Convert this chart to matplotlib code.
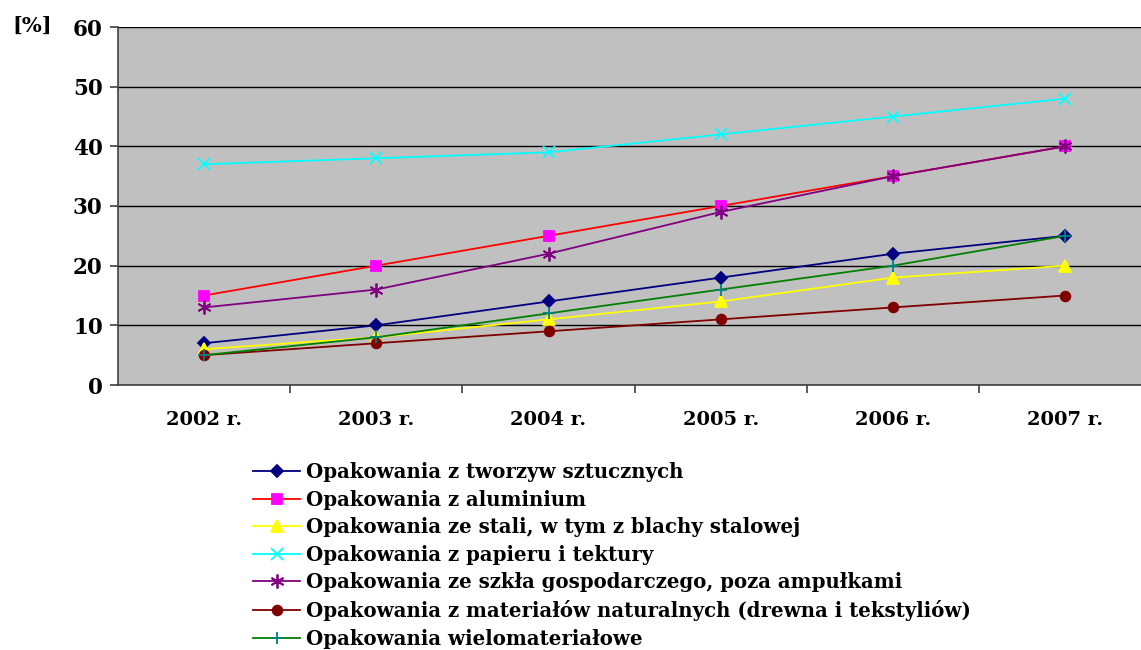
import matplotlib.pyplot as plt

years = ["2002 r.", "2003 r.", "2004 r.", "2005 r.", "2006 r.", "2007 r."]

tworzywa = [7, 10, 14, 18, 22, 25]
aluminium = [15, 20, 25, 30, 35, 40]
stal = [6, 8, 11, 14, 18, 20]
papier = [37, 38, 39, 42, 45, 48]
szklo = [13, 16, 22, 29, 35, 40]
naturalne = [5, 7, 9, 11, 13, 15]
wielomat = [5, 8, 12, 16, 20, 25]

labels = [
    "Opakowania z tworzyw sztucznych",
    "Opakowania z aluminium",
    "Opakowania ze stali, w tym z blachy stalowej",
    "Opakowania z papieru i tektury",
    "Opakowania ze szkła gospodarczego, poza ampułkami",
    "Opakowania z materiałów naturalnych (drewna i tekstyliów)",
    "Opakowania wielomateriałowe",
]

plt.rcParams['font.family'] = ['DejaVu Serif', 'Liberation Serif']
plt.rcParams['font.weight'] = 'bold'

fig = plt.figure(figsize=(11.41, 6.5), dpi=100)
ax = fig.add_axes([118 / 1141, 1 - 385 / 650, (1141 - 118) / 1141, (385 - 27) / 650])
ax.set_facecolor("#C0C0C0")

x = range(len(years))
series = [
    (tworzywa, "#000080", "D", "#000080", 6),
    (aluminium, "#FF0000", "s", "#FF00FF", 7),
    (stal, "#FFFF00", "^", "#FFFF00", 8),
    (papier, "#00FFFF", "x", "#00FFFF", 8),
    (szklo, "#800080", (6, 2, 0), "#800080", 10),
    (naturalne, "#800000", "o", "#800000", 7),
    (wielomat, "#008000", "+", "#008080", 9),
]
for (vals, lc, m, mc, ms), lbl in zip(series, labels):
    ax.plot(x, vals, color=lc, lw=1.3, marker=m, markersize=ms,
            markerfacecolor=mc, markeredgecolor=mc, markeredgewidth=1.3,
            label=lbl, zorder=3)

ax.set_ylim(0, 60)
ax.set_yticks(range(0, 61, 10))
ax.set_xlim(-0.5, 5.44)
ax.set_xticks([i + 0.5 for i in range(5)])
ax.set_xticklabels([])
ax.set_xticks(list(x), minor=True)
ax.set_xticklabels(years, minor=True, fontsize=14, fontweight='bold')
ax.tick_params(axis='x', which='minor', length=0, pad=19)
ax.tick_params(axis='x', which='major', length=6, direction='out', width=1.2, color='#404040')
ax.tick_params(axis='y', length=6, direction='out', labelsize=15.5, pad=5, width=1.2, color='#404040')
for lab in ax.get_yticklabels():
    lab.set_fontweight('bold')
ax.yaxis.grid(True, color='black', lw=1)
ax.set_axisbelow(True)
for s in ['top', 'right']:
    ax.spines[s].set_visible(False)
ax.spines['left'].set_color('#404040')
ax.spines['bottom'].set_color('#404040')
ax.spines['left'].set_linewidth(1.2)
ax.spines['bottom'].set_linewidth(1.2)

fig.text(12 / 1141, 1 - 26 / 650, "[%]", fontsize=15, fontweight='bold', va='center')

leg = fig.legend(loc='upper left', bbox_to_anchor=(253 / 1141, 1 - 462 / 650),
                 frameon=False, prop={'size': 14.2, 'weight': 'bold'},
                 handlelength=2.4, handletextpad=0.3, labelspacing=0.385,
                 borderaxespad=0, borderpad=0)

fig.savefig("out.png", dpi=100)
